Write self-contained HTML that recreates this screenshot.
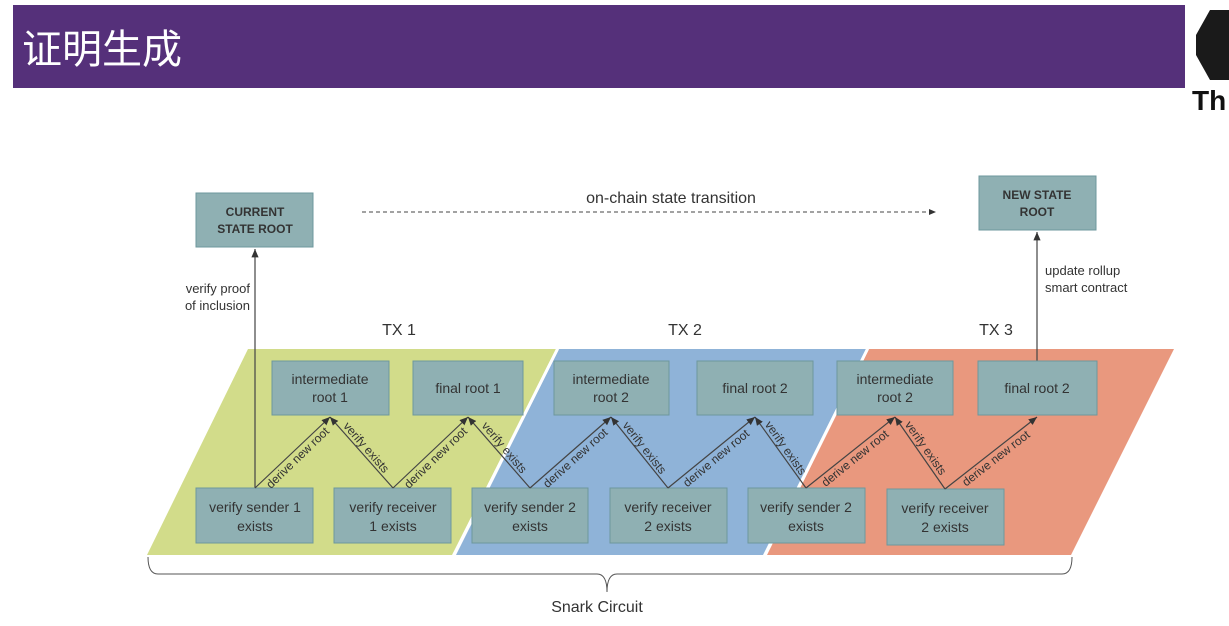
<!DOCTYPE html>
<html><head><meta charset="utf-8"><style>
body{margin:0;background:#fff;width:1229px;height:626px;overflow:hidden}
svg{display:block}
text{font-family:"Liberation Sans","Noto Sans CJK SC",sans-serif;fill:#333}
.b{fill:#8fb0b3;stroke:#6d979c;stroke-width:1}
.t{font-size:14px;text-anchor:middle}
.l{font-size:12px;text-anchor:middle}
.ln{stroke:#444;stroke-width:1.2;fill:none}
</style></head><body>
<svg width="1229" height="626" viewBox="0 0 1229 626">
<defs><marker id="a" markerWidth="8" markerHeight="8" refX="7" refY="4" orient="auto"><path d="M0,1 L7,4 L0,7 z" fill="#333"/></marker></defs>
<rect x="13" y="5" width="1172" height="83" fill="#55307a"/>
<text x="22" y="63" style="font-size:40px;fill:#fff;font-family:'Noto Sans CJK SC',sans-serif">证明生成</text>
<path d="M1196,35 L1210,10 L1229,10 L1229,80 L1210,80 L1196,55 z" fill="#1a1a1a"/>
<text x="1192" y="110" style="font-size:28px;font-weight:bold;fill:#111">Th</text>

<polygon points="248,349 556,349 452,555 147,555" fill="#d2dc8a"/>
<polygon points="559,349 866,349 763,555 456,555" fill="#8fb3d8"/>
<polygon points="869,349 1174,349 1071,555 767,555" fill="#e9987e"/>
<line x1="557.5" y1="349" x2="454" y2="555" stroke="#fff" stroke-width="3"/>
<line x1="867.5" y1="349" x2="765" y2="555" stroke="#fff" stroke-width="3"/>

<rect class="b" x="196" y="193" width="117" height="54"/>
<text class="t" x="255" y="216" style="font-weight:bold;font-size:12px">CURRENT</text>
<text class="t" x="255" y="233" style="font-weight:bold;font-size:12px">STATE ROOT</text>
<rect class="b" x="979" y="176" width="117" height="54"/>
<text class="t" x="1037" y="199" style="font-weight:bold;font-size:12px">NEW STATE</text>
<text class="t" x="1037" y="216" style="font-weight:bold;font-size:12px">ROOT</text>

<line x1="362" y1="212" x2="936" y2="212" stroke="#444" stroke-dasharray="4,3" marker-end="url(#a)"/>
<text x="671" y="203" class="t" style="font-size:16px">on-chain state transition</text>

<line class="ln" x1="255" y1="488" x2="255" y2="249" marker-end="url(#a)"/>
<text x="250" y="293" style="font-size:13px;text-anchor:end">verify proof</text>
<text x="250" y="310" style="font-size:13px;text-anchor:end">of inclusion</text>
<line class="ln" x1="1037" y1="361" x2="1037" y2="232" marker-end="url(#a)"/>
<text x="1045" y="275" style="font-size:13px">update rollup</text>
<text x="1045" y="292" style="font-size:13px">smart contract</text>

<text x="399" y="335" class="t" style="font-size:16px">TX 1</text>
<text x="685" y="335" class="t" style="font-size:16px">TX 2</text>
<text x="996" y="335" class="t" style="font-size:16px">TX 3</text>

<g>
<rect class="b" x="272" y="361" width="117" height="54"/><text class="t" x="330" y="384">intermediate</text><text class="t" x="330" y="402">root 1</text>
<rect class="b" x="413" y="361" width="110" height="54"/><text class="t" x="468" y="393">final root 1</text>
<rect class="b" x="554" y="361" width="115" height="54"/><text class="t" x="611" y="384">intermediate</text><text class="t" x="611" y="402">root 2</text>
<rect class="b" x="697" y="361" width="116" height="54"/><text class="t" x="755" y="393">final root 2</text>
<rect class="b" x="837" y="361" width="116" height="54"/><text class="t" x="895" y="384">intermediate</text><text class="t" x="895" y="402">root 2</text>
<rect class="b" x="978" y="361" width="119" height="54"/><text class="t" x="1037" y="393">final root 2</text>

<rect class="b" x="196" y="488" width="117" height="55"/><text class="t" x="255" y="512">verify sender 1</text><text class="t" x="255" y="531">exists</text>
<rect class="b" x="334" y="488" width="117" height="55"/><text class="t" x="393" y="512">verify receiver</text><text class="t" x="393" y="531">1 exists</text>
<rect class="b" x="472" y="488" width="116" height="55"/><text class="t" x="530" y="512">verify sender 2</text><text class="t" x="530" y="531">exists</text>
<rect class="b" x="610" y="488" width="117" height="55"/><text class="t" x="668" y="512">verify receiver</text><text class="t" x="668" y="531">2 exists</text>
<rect class="b" x="748" y="488" width="117" height="55"/><text class="t" x="806" y="512">verify sender 2</text><text class="t" x="806" y="531">exists</text>
<rect class="b" x="887" y="489" width="117" height="56"/><text class="t" x="945" y="513">verify receiver</text><text class="t" x="945" y="532">2 exists</text>
</g>

<g class="ln">
<line x1="255" y1="488" x2="330" y2="417" marker-end="url(#a)"/>
<line x1="393" y1="488" x2="468" y2="417" marker-end="url(#a)"/>
<line x1="530" y1="488" x2="611" y2="417" marker-end="url(#a)"/>
<line x1="668" y1="488" x2="755" y2="417" marker-end="url(#a)"/>
<line x1="806" y1="488" x2="895" y2="417" marker-end="url(#a)"/>
<line x1="945" y1="489" x2="1037" y2="417" marker-end="url(#a)"/>
<line x1="393" y1="488" x2="330" y2="417" marker-end="url(#a)"/>
<line x1="530" y1="488" x2="468" y2="417" marker-end="url(#a)"/>
<line x1="668" y1="488" x2="611" y2="417" marker-end="url(#a)"/>
<line x1="806" y1="488" x2="755" y2="417" marker-end="url(#a)"/>
<line x1="945" y1="489" x2="895" y2="417" marker-end="url(#a)"/>
</g>
<g class="l">
<text transform="translate(292,452) rotate(-44)" y="12">derive new root</text>
<text transform="translate(430,452) rotate(-44)" y="12">derive new root</text>
<text transform="translate(570,452) rotate(-42)" y="12">derive new root</text>
<text transform="translate(711,452) rotate(-40)" y="12">derive new root</text>
<text transform="translate(850,452) rotate(-39)" y="12">derive new root</text>
<text transform="translate(991,452) rotate(-38)" y="12">derive new root</text>
<text transform="translate(361,452) rotate(49)" y="-3">verify exists</text>
<text transform="translate(499,452) rotate(50)" y="-3">verify exists</text>
<text transform="translate(639,452) rotate(52)" y="-3">verify exists</text>
<text transform="translate(780,452) rotate(55)" y="-3">verify exists</text>
<text transform="translate(920,452) rotate(55)" y="-3">verify exists</text>
</g>

<path d="M148,557 Q148,574 158,574 L597,574 Q607,574 607,592 Q607,574 617,574 L1062,574 Q1072,574 1072,557" fill="none" stroke="#555" stroke-width="1"/>
<text x="597" y="612" class="t" style="font-size:16px">Snark Circuit</text>
</svg>
</body></html>
